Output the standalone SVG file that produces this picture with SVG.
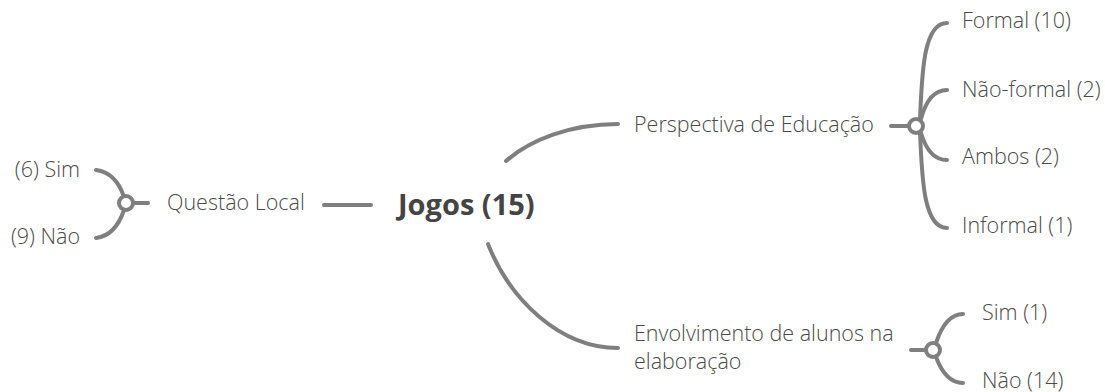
<svg xmlns="http://www.w3.org/2000/svg" width="1105" height="392" viewBox="0 0 1105 392">
<style>
.t{font-family:"Open Sans","Liberation Sans",sans-serif;font-size:21.5px;font-weight:300;fill:#4a4a4a;}
.root{font-family:"Open Sans","Liberation Sans",sans-serif;font-size:29px;font-weight:bold;fill:#444;}
.c{fill:none;stroke:#7f7f7f;stroke-width:4;stroke-linecap:round;}
.k{fill:#fff;stroke:#7f7f7f;stroke-width:4;}
</style>
<rect width="1105" height="392" fill="#fff"/>
<g id="connectors">
<path class="c" d="M96,170 C112,172 120,185 124,197"/>
<path class="c" d="M96,238 C112,236 120,222 124,210"/>
<path class="c" d="M133,203 H148"/>
<path class="c" d="M324,205 H371"/>
<path class="c" d="M506,161 C530,140 570,124 618,124"/>
<path class="c" d="M488,244 C510,300 560,348 618,348"/>
<path class="c" d="M891,126 H909"/>
<path class="c" d="M920,119 C922,80 922,23 947,23"/>
<path class="c" d="M921,119 C926,100 935,90 947,90"/>
<path class="c" d="M921,133 C926,150 935,160 947,160"/>
<path class="c" d="M920,133 C922,170 922,228 947,228"/>
<path class="c" d="M911,350 H926"/>
<path class="c" d="M936,343 C942,325 950,314 963,314"/>
<path class="c" d="M936,357 C942,373 950,383 963,383"/>
<circle class="k" cx="126" cy="203" r="7"/>
<circle class="k" cx="916" cy="126" r="7"/>
<circle class="k" cx="933" cy="350" r="7"/>
</g>
<g id="root"><text class="root" x="398" y="215">Jogos (15)</text></g>
<g id="n-sim6"><text class="t" x="80" y="177" text-anchor="end">(6) Sim</text></g>
<g id="n-nao9"><text class="t" x="80" y="244" text-anchor="end">(9) Não</text></g>
<g id="n-questao"><text class="t" x="167" y="210">Questão Local</text></g>
<g id="n-persp"><text class="t" x="634" y="132">Perspectiva de Educação</text></g>
<g id="n-formal"><text class="t" x="962" y="28">Formal (10)</text></g>
<g id="n-naoformal"><text class="t" x="962" y="97">Não-formal (2)</text></g>
<g id="n-ambos"><text class="t" x="962" y="164">Ambos (2)</text></g>
<g id="n-informal"><text class="t" x="962" y="233">Informal (1)</text></g>
<g id="n-envolv"><text class="t" x="634" y="341">Envolvimento de alunos na</text><text class="t" x="634" y="369">elaboração</text></g>
<g id="n-sim1"><text class="t" x="982" y="320">Sim (1)</text></g>
<g id="n-nao14"><text class="t" x="982" y="388">Não (14)</text></g>
</svg>
